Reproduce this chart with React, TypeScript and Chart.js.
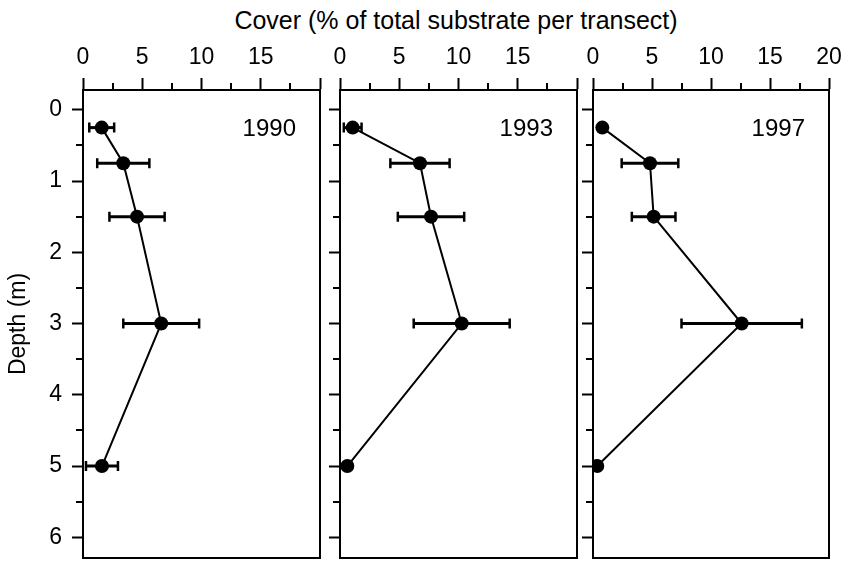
import React, { useEffect, useRef } from 'react';
import { Chart, registerables } from 'chart.js';

Chart.register(...registerables);

// ---- Data ----
const depths = [0.25, 0.75, 1.5, 3, 5];
const years = ['1990', '1993', '1997'];
const cover1990 = [1.58, 3.4, 4.56, 6.6, 1.6];
const err1990 = [1.05, 2.2, 2.33, 3.2, 1.35];
const cover1993 = [1.07, 6.75, 7.68, 10.27, 0.62];
const err1993 = [0.75, 2.5, 2.8, 4.05, 0];
const cover1997 = [0.79, 4.83, 5.14, 12.6, 0.36];
const err1997 = [0, 2.4, 1.85, 5.1, 0];
const coverMajorTicks = [0, 5, 10, 15, 20];
const coverMinorTicks = [2.5, 7.5, 12.5, 17.5];
const depthMajorTicks = [0, 1, 2, 3, 4, 5, 6];
const depthMinorTicks = [0.5, 1.5, 2.5, 3.5, 4.5, 5.5];
const coverRange = [0, 20];
const depthRange = [-0.278, 6.291];
const xAxisTitle = 'Cover (% of total substrate per transect)';
const yAxisTitle = 'Depth (m)';

const seriesValues = [cover1990, cover1993, cover1997];
const seriesErrors = [err1990, err1993, err1997];

// ---- Layout ----
const W = 845;
const H = 565;
const FONT = '"Liberation Sans", Arial, Helvetica, sans-serif';
const panelLayout = [
  { left: 83, right: 320, first: true, showLast: false },
  { left: 340, right: 577, first: false, showLast: false },
  { left: 593, right: 829, first: false, showLast: true },
];
const TOP = 90;
const BOTTOM = 563;

function makePlugin(values: number[], errors: number[], year: string) {
  return {
    id: 'panelDecor',
    beforeDatasetsDraw(chart: any) {
      const { ctx } = chart;
      const xs = chart.scales.x;
      const ys = chart.scales.y;
      ctx.save();
      ctx.strokeStyle = '#000';
      values.forEach((v, i) => {
        const e = errors[i];
        if (!e) return;
        const y = ys.getPixelForValue(depths[i]);
        const x1 = xs.getPixelForValue(v - e);
        const x2 = xs.getPixelForValue(v + e);
        ctx.lineWidth = 3;
        ctx.beginPath();
        ctx.moveTo(x1, y);
        ctx.lineTo(x2, y);
        ctx.stroke();
        ctx.lineWidth = 2.5;
        ctx.beginPath();
        ctx.moveTo(x1, y - 5);
        ctx.lineTo(x1, y + 5);
        ctx.moveTo(x2, y - 5);
        ctx.lineTo(x2, y + 5);
        ctx.stroke();
      });
      ctx.restore();
    },
    afterDraw(chart: any) {
      const { ctx, chartArea } = chart;
      const xs = chart.scales.x;
      const ys = chart.scales.y;
      ctx.save();
      ctx.strokeStyle = '#000';
      ctx.lineWidth = 2;
      ctx.strokeRect(chartArea.left, chartArea.top, chartArea.right - chartArea.left, chartArea.bottom - chartArea.top);
      ctx.beginPath();
      coverMinorTicks.forEach((v) => {
        const px = Math.round(xs.getPixelForValue(v));
        ctx.moveTo(px, chartArea.top);
        ctx.lineTo(px, chartArea.top - 7);
      });
      depthMinorTicks.forEach((v) => {
        const py = Math.round(ys.getPixelForValue(v));
        ctx.moveTo(chartArea.left, py);
        ctx.lineTo(chartArea.left - 7, py);
      });
      ctx.stroke();
      ctx.fillStyle = '#000';
      ctx.font = `24px ${FONT}`;
      ctx.textAlign = 'right';
      ctx.textBaseline = 'alphabetic';
      ctx.fillText(year, chartArea.right - 24, chartArea.top + 46);
      ctx.restore();
    },
  };
}

function Panel({ index }: { index: number }) {
  const ref = useRef<HTMLCanvasElement | null>(null);
  useEffect(() => {
    const lay = panelLayout[index];
    const values = seriesValues[index];
    const errors = seriesErrors[index];
    const yWidth = lay.first ? 83 : 20;
    const chart = new Chart(ref.current as HTMLCanvasElement, {
      type: 'scatter',
      data: {
        datasets: [
          {
            label: years[index],
            data: values.map((x, i) => ({ x, y: depths[i] })),
            showLine: true,
            borderColor: '#000',
            borderWidth: 2,
            pointRadius: 7,
            pointHoverRadius: 7,
            pointBackgroundColor: '#000',
            pointBorderWidth: 0,
            tension: 0,
          } as any,
        ],
      },
      options: {
        animation: false,
        responsive: false,
        devicePixelRatio: 1,
        events: [],
        layout: {
          padding: {
            left: lay.left - yWidth,
            right: W - lay.right,
            top: 0,
            bottom: H - BOTTOM,
          },
        },
        plugins: {
          legend: { display: false },
          tooltip: { enabled: false },
        },
        scales: {
          x: {
            type: 'linear',
            position: 'top',
            min: coverRange[0],
            max: coverRange[1],
            afterBuildTicks: (s: any) => {
              s.ticks = coverMajorTicks.map((v) => ({ value: v }));
            },
            afterFit: (s: any) => {
              s.height = TOP;
              s.paddingLeft = 0;
              s.paddingRight = 0;
              s.paddingTop = 0;
              s.paddingBottom = 0;
            },
            ticks: {
              autoSkip: false,
              maxRotation: 0,
              padding: 7,
              color: '#000',
              font: { family: FONT, size: 23 },
              callback: (v: any) => (lay.showLast || Number(v) !== 20 ? String(v) : ''),
            },
            grid: {
              drawOnChartArea: false,
              drawTicks: true,
              tickLength: 12,
              tickWidth: 2,
              tickColor: '#000',
            },
            border: { display: true, color: '#000', width: 2 },
          },
          y: {
            type: 'linear',
            reverse: true,
            min: depthRange[0],
            max: depthRange[1],
            afterBuildTicks: (s: any) => {
              s.ticks = depthMajorTicks.map((v) => ({ value: v }));
            },
            afterFit: (s: any) => {
              s.width = yWidth;
              s.paddingLeft = 0;
              s.paddingRight = 0;
              s.paddingTop = 0;
              s.paddingBottom = 0;
            },
            ticks: {
              display: lay.first,
              autoSkip: false,
              padding: 10,
              color: '#000',
              font: { family: FONT, size: 23 },
              callback: (v: any) => String(v),
            },
            grid: {
              drawOnChartArea: false,
              drawTicks: true,
              tickLength: 11,
              tickWidth: 2,
              tickColor: '#000',
            },
            border: { display: true, color: '#000', width: 2 },
            title: {
              display: lay.first,
              text: yAxisTitle,
              color: '#000',
              font: { family: FONT, size: 23 },
              padding: { top: 5, bottom: 0 },
            },
          },
        },
      } as any,
      plugins: [makePlugin(values, errors, years[index])],
    });
    return () => chart.destroy();
  }, [index]);
  return (
    <canvas
      ref={ref}
      width={W}
      height={H}
      style={{ position: 'absolute', left: 0, top: 0, width: W, height: H }}
    />
  );
}

export default function App() {
  return (
    <div
      style={{
        position: 'fixed',
        left: 0,
        top: 0,
        width: W,
        height: H,
        background: '#fff',
        overflow: 'hidden',
      }}
    >
      <div
        style={{
          position: 'absolute',
          left: 83,
          width: 746,
          top: 5,
          textAlign: 'center',
          fontFamily: FONT,
          fontSize: 25,
          lineHeight: '30px',
          color: '#000',
          whiteSpace: 'nowrap',
        }}
      >
        {xAxisTitle}
      </div>
      {panelLayout.map((_, i) => (
        <Panel key={i} index={i} />
      ))}
    </div>
  );
}
